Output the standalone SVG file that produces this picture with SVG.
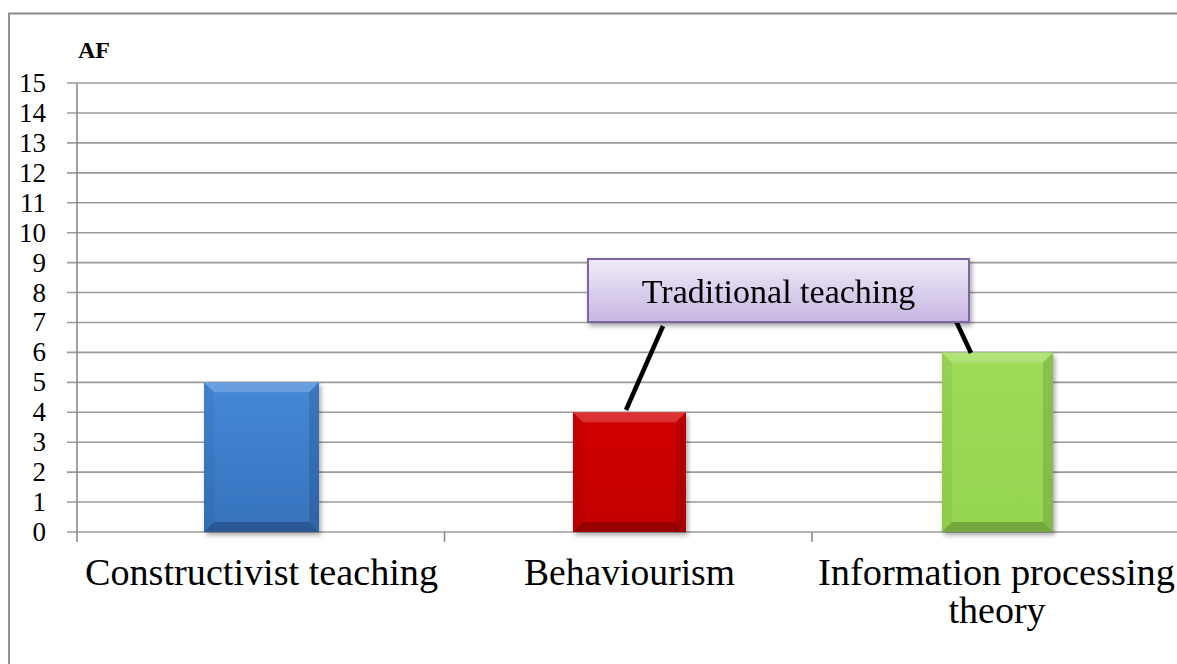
<svg xmlns="http://www.w3.org/2000/svg" width="1177" height="664" viewBox="0 0 1177 664">
<style>
.grid{stroke:#9a9a9a;stroke-width:1.6;fill:none}
.axis{stroke:#8c8c8c;stroke-width:1.6;fill:none}
.ylab{font-size:27px;fill:#000;text-anchor:end}
.xlab{font-size:38px;fill:#000;text-anchor:middle}
.title{font-size:24px;font-weight:bold;fill:#000}
.callt{font-size:34px;fill:#000;text-anchor:middle}
.leader{stroke:#000;stroke-width:4.5;fill:none}
.bevT{fill:#fff;fill-opacity:0.2}
.bevL{fill:#000;fill-opacity:0.05}
.bevR{fill:#000;fill-opacity:0.12}
.bevB{fill:#000;fill-opacity:0.22}
</style>
<defs>
<linearGradient id="gBlue" x1="0" y1="0" x2="0" y2="1">
<stop offset="0" stop-color="#4589d8"/>
<stop offset="1" stop-color="#3672bd"/>
</linearGradient>
<linearGradient id="gRed" x1="0" y1="0" x2="0" y2="1">
<stop offset="0" stop-color="#d20000"/>
<stop offset="1" stop-color="#c20000"/>
</linearGradient>
<linearGradient id="gGreen" x1="0" y1="0" x2="0" y2="1">
<stop offset="0" stop-color="#9edc58"/>
<stop offset="1" stop-color="#94d550"/>
</linearGradient>
<linearGradient id="gCall" x1="0" y1="0" x2="0" y2="1">
<stop offset="0" stop-color="#f0ecf8"/>
<stop offset="1" stop-color="#c6b5e2"/>
</linearGradient>
<filter id="sh" x="-10%" y="-10%" width="125%" height="130%">
<feGaussianBlur in="SourceAlpha" stdDeviation="2.5"/>
<feOffset dx="1.5" dy="3" result="b"/>
<feComponentTransfer><feFuncA type="linear" slope="0.35"/></feComponentTransfer>
<feMerge><feMergeNode/><feMergeNode in="SourceGraphic"/></feMerge>
</filter>
</defs>
<rect width="1177" height="664" fill="#fff"/>
<path d="M9 680 V13.5 H1190" stroke="#8a8a8a" stroke-width="1.8" fill="none"/>
<text class="title" x="78" y="58" font-family="Liberation Serif, DejaVu Serif, serif">AF</text>
<g id="gridlines">
<path class="grid" d="M67 83.05H1177M67 112.98H1177M67 142.91H1177M67 172.84H1177M67 202.77H1177M67 232.7H1177M67 262.63H1177M67 292.56H1177M67 322.49H1177M67 352.42H1177M67 382.35H1177M67 412.28H1177M67 442.21H1177M67 472.14H1177M67 502.07H1177M67 532H1177"/>
<path class="axis" d="M77 83V542M444.5 532V542M812 532V542"/>
</g>
<g id="ylabels" font-family="Liberation Serif, DejaVu Serif, serif">
<text class="ylab" x="46" y="92.05">15</text>
<text class="ylab" x="46" y="121.98">14</text>
<text class="ylab" x="46" y="151.91">13</text>
<text class="ylab" x="46" y="181.84">12</text>
<text class="ylab" x="46" y="211.77">11</text>
<text class="ylab" x="46" y="241.7">10</text>
<text class="ylab" x="46" y="271.63">9</text>
<text class="ylab" x="46" y="301.56">8</text>
<text class="ylab" x="46" y="331.49">7</text>
<text class="ylab" x="46" y="361.42">6</text>
<text class="ylab" x="46" y="391.35">5</text>
<text class="ylab" x="46" y="421.28">4</text>
<text class="ylab" x="46" y="451.21">3</text>
<text class="ylab" x="46" y="481.14">2</text>
<text class="ylab" x="46" y="511.07">1</text>
<text class="ylab" x="46" y="541">0</text>
</g>
<g id="bar-constructivist" filter="url(#sh)">
<rect x="204" y="382.35" width="115" height="149.65" fill="url(#gBlue)"/>
<polygon class="bevT" points="204,382.35 319,382.35 309,392.35 214,392.35"/>
<polygon class="bevL" points="204,382.35 214,392.35 214,522 204,532"/>
<polygon class="bevR" points="319,382.35 309,392.35 309,522 319,532"/>
<polygon class="bevB" points="204,532 214,522 309,522 319,532"/>
</g>
<g id="bar-behaviourism" filter="url(#sh)">
<rect x="573" y="412.28" width="113" height="119.72" fill="url(#gRed)"/>
<polygon class="bevT" points="573,412.28 686,412.28 676,422.28 583,422.28"/>
<polygon class="bevL" points="573,412.28 583,422.28 583,522 573,532"/>
<polygon class="bevR" points="686,412.28 676,422.28 676,522 686,532"/>
<polygon class="bevB" points="573,532 583,522 676,522 686,532"/>
</g>
<g id="bar-information" filter="url(#sh)">
<rect x="942" y="352.42" width="111" height="179.58" fill="url(#gGreen)"/>
<polygon class="bevT" points="942,352.42 1053,352.42 1043,362.42 952,362.42"/>
<polygon class="bevL" points="942,352.42 952,362.42 952,522 942,532"/>
<polygon class="bevR" points="1053,352.42 1043,362.42 1043,522 1053,532"/>
<polygon class="bevB" points="942,532 952,522 1043,522 1053,532"/>
</g>
<g id="connectors">
<line class="leader" x1="663" y1="326" x2="626" y2="410"/>
<line class="leader" x1="956" y1="321" x2="971" y2="353"/>
</g>
<g id="callout-traditional" filter="url(#sh)" font-family="Liberation Serif, DejaVu Serif, serif">
<rect x="588" y="259" width="381" height="63" fill="url(#gCall)" stroke="#8064a2" stroke-width="2"/>
<text class="callt" x="778.5" y="303">Traditional teaching</text>
</g>
<g id="xlabels" font-family="Liberation Serif, DejaVu Serif, serif">
<text class="xlab" x="261.5" y="585" textLength="353" lengthAdjust="spacingAndGlyphs">Constructivist teaching</text>
<text class="xlab" x="629.5" y="585" textLength="211" lengthAdjust="spacingAndGlyphs">Behaviourism</text>
<text class="xlab" x="996.5" y="585" textLength="357" lengthAdjust="spacingAndGlyphs">Information processing</text>
<text class="xlab" x="997" y="623">theory</text>
</g>
</svg>
